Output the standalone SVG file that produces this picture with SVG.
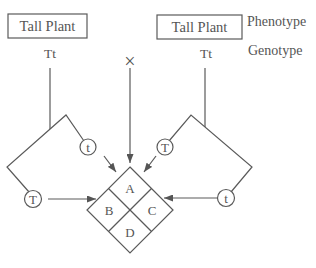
<svg xmlns="http://www.w3.org/2000/svg" width="316" height="268" viewBox="0 0 316 268">
<defs>
<marker id="ah" markerWidth="9" markerHeight="7" refX="9" refY="3.5" orient="auto" markerUnits="userSpaceOnUse">
<path d="M0,0 L9,3.5 L0,7 Z" fill="#555"/>
</marker>
</defs>
<style>
.ln{stroke:#5a5a5a;stroke-width:1.2;fill:none}
.bx{stroke:#5a5a5a;stroke-width:1.2;fill:#fff}
.t{font-family:"Liberation Serif","Times New Roman",serif;fill:#555;text-anchor:middle}
.lab{font-family:"Liberation Serif","Times New Roman",serif;fill:#555;font-size:14px}
</style>
<rect width="316" height="268" fill="#fff"/>
<g id="connectors">
<line class="ln" x1="50" y1="68" x2="50" y2="129"/>
<line class="ln" x1="205" y1="68" x2="205" y2="127"/>
<line class="ln" x1="130" y1="68" x2="130" y2="163" marker-end="url(#ah)"/>
<polyline class="ln" points="29,192 7,167 66,115 84,141"/>
<polyline class="ln" points="169,141 191,115 252,167 231,192"/>
<line class="ln" x1="104" y1="156" x2="116" y2="172" marker-end="url(#ah)"/>
<line class="ln" x1="156" y1="156" x2="144" y2="172" marker-end="url(#ah)"/>
<line class="ln" x1="48" y1="199" x2="96" y2="199" marker-end="url(#ah)"/>
<line class="ln" x1="218" y1="198" x2="164" y2="198" marker-end="url(#ah)"/>
</g>
<g id="parent1">
<rect class="bx" x="8" y="14" width="79" height="24"/>
<text class="t" x="47.5" y="31" font-size="14.5">Tall Plant</text>
<text class="t" x="50" y="58" font-size="13.5">Tt</text>
</g>
<g id="parent2">
<rect class="bx" x="157" y="15" width="85" height="24"/>
<text class="t" x="199.5" y="32" font-size="14.5">Tall Plant</text>
<text class="t" x="206" y="58" font-size="13.5">Tt</text>
</g>
<g id="cross"><text class="t" x="130" y="68" font-size="20">×</text></g>
<g id="labels">
<text class="lab" x="247" y="26">Phenotype</text>
<text class="lab" x="248" y="55">Genotype</text>
</g>
<g id="g-t1"><circle class="bx" cx="88" cy="147" r="8"/><text class="t" x="88" y="151.5" font-size="13">t</text></g>
<g id="g-T1"><circle class="bx" cx="33" cy="199" r="8.5"/><text class="t" x="33" y="203.5" font-size="13">T</text></g>
<g id="g-T2"><circle class="bx" cx="165" cy="147" r="8"/><text class="t" x="165" y="151.5" font-size="13">T</text></g>
<g id="g-t2"><circle class="bx" cx="226" cy="198" r="8.5"/><text class="t" x="226" y="202.5" font-size="13">t</text></g>
<g id="punnett">
<polygon class="bx" points="130,167 173,210 130,253 87,210"/>
<line class="ln" x1="108.5" y1="188.5" x2="151.5" y2="231.5"/>
<line class="ln" x1="151.5" y1="188.5" x2="108.5" y2="231.5"/>
<text class="t" x="130" y="193" font-size="13">A</text>
<text class="t" x="109" y="214.5" font-size="13">B</text>
<text class="t" x="152" y="214.5" font-size="13">C</text>
<text class="t" x="130" y="237" font-size="13">D</text>
</g>
</svg>
